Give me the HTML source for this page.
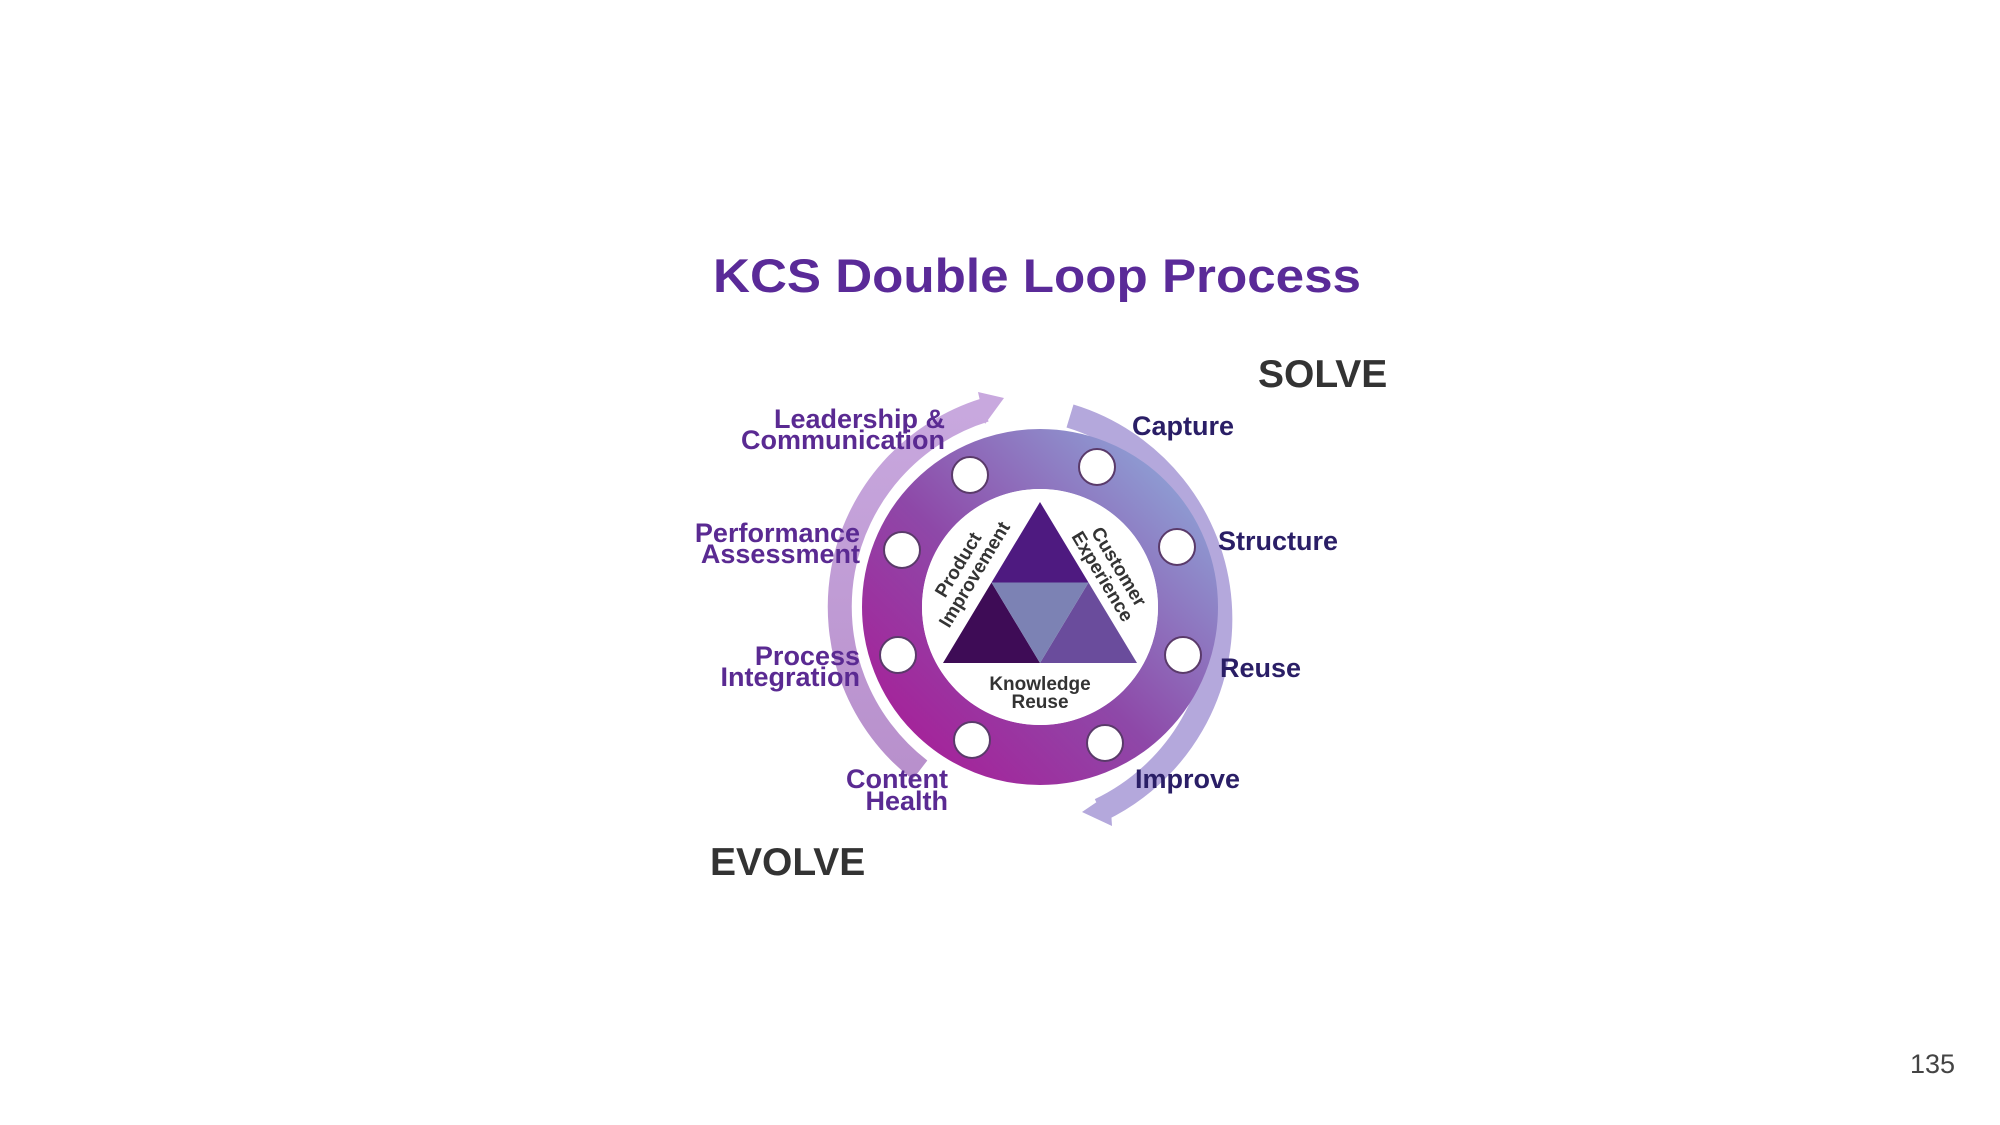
<!DOCTYPE html>
<html><head><meta charset="utf-8"><style>
html,body{margin:0;padding:0;background:#fff;}
svg{display:block;}
text{font-family:"Liberation Sans",sans-serif;font-weight:bold;}
</style></head><body>
<svg width="2000" height="1125" viewBox="0 0 2000 1125" xmlns="http://www.w3.org/2000/svg">
<defs>
<linearGradient id="ring" x1="0" y1="1" x2="1" y2="0">
<stop offset="0" stop-color="#a81e98"/>
<stop offset="0.45" stop-color="#8e48a8"/>
<stop offset="1" stop-color="#8ea6d8"/>
</linearGradient>
<linearGradient id="arcL" x1="0" y1="1" x2="0" y2="0">
<stop offset="0" stop-color="#b890cc"/>
<stop offset="1" stop-color="#c8a8de"/>
</linearGradient>
</defs>

<text x="713" y="292" font-size="47" fill="#5a2a98" textLength="648" lengthAdjust="spacingAndGlyphs">KCS Double Loop Process</text>

<!-- outer arcs -->
<path d="M 920 770 A 206 206 0 0 1 985 410" fill="none" stroke="url(#arcL)" stroke-width="24"/>
<polygon points="978,392 1004,398 985,424" fill="#c8a8de"/>
<path d="M 1070 416 A 212 212 0 0 1 1100 810" fill="none" stroke="#b4a8dc" stroke-width="24"/>
<polygon points="1110,793 1082,812 1112,826" fill="#b4a8dc"/>

<!-- ring -->
<circle cx="1040" cy="607" r="148" fill="none" stroke="url(#ring)" stroke-width="60"/>
<circle cx="1040" cy="607" r="118" fill="#fff"/>

<!-- small circles -->
<g fill="#fff" stroke="#5a3a6a" stroke-width="2">
<circle cx="970" cy="475" r="18"/><circle cx="1097" cy="467" r="18"/>
<circle cx="1177" cy="547" r="18"/><circle cx="1183" cy="655" r="18"/>
<circle cx="1105" cy="743" r="18"/><circle cx="972" cy="740" r="18"/>
<circle cx="898" cy="655" r="18"/><circle cx="902" cy="550" r="18"/>
</g>

<!-- triangle -->
<polygon points="1040,502 991.5,582.5 1088.5,582.5" fill="#4e1a80"/>
<polygon points="991.5,582.5 943,663 1040,663" fill="#3e0c56"/>
<polygon points="1088.5,582.5 1137,663 1040,663" fill="#6a4c9c"/>
<polygon points="991.5,582.5 1088.5,582.5 1040,663" fill="#7c82b4"/>

<g font-size="19" fill="#333" text-anchor="middle">
<text x="1040" y="690">Knowledge</text>
<text x="1040" y="708">Reuse</text>
<g transform="rotate(-59 967 570)"><text x="967" y="566">Product</text><text x="967" y="585">Improvement</text></g>
<g transform="rotate(59 1110 572)"><text x="1110" y="568">Customer</text><text x="1110" y="587">Experience</text></g>
</g>

<!-- left labels -->
<g font-size="27" fill="#5a2a92" text-anchor="end">
<text x="945" y="428">Leadership &amp;</text>
<text x="945" y="449">Communication</text>
<text x="860" y="542">Performance</text>
<text x="860" y="563">Assessment</text>
<text x="860" y="665">Process</text>
<text x="860" y="686">Integration</text>
<text x="948" y="788">Content</text>
<text x="948" y="810">Health</text>
</g>
<!-- right labels -->
<g font-size="27" fill="#2a1e66">
<text x="1132" y="435">Capture</text>
<text x="1218" y="550">Structure</text>
<text x="1220" y="677">Reuse</text>
<text x="1135" y="788">Improve</text>
</g>

<text x="1258" y="387" font-size="39" fill="#333">SOLVE</text>
<text x="710" y="875" font-size="39" fill="#333">EVOLVE</text>

<text x="1910" y="1073" font-size="27" fill="#444" style="font-weight:normal">135</text>
</svg>
</body></html>
